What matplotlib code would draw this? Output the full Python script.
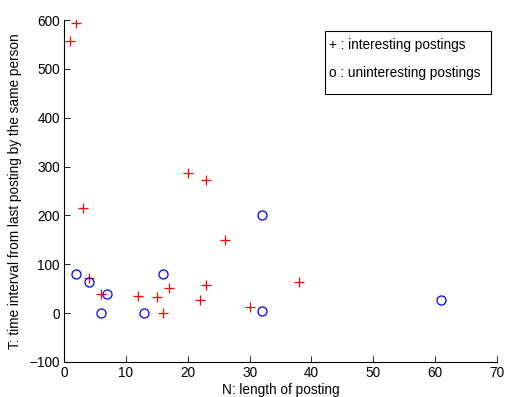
import matplotlib
matplotlib.use("Agg")
import matplotlib.pyplot as plt
from matplotlib.patches import Rectangle

plt.rcParams['font.family'] = ['Liberation Sans', 'DejaVu Sans']

# interesting postings (+)
int_n = [1, 2, 3, 4, 6, 12, 15, 16, 17, 20, 22, 23, 23, 26, 30, 38]
int_t = [558, 594, 216, 72, 39, 36, 32, 1, 52, 287, 26, 272, 58, 149, 12, 63]
# uninteresting postings (o)
unint_n = [2, 4, 6, 7, 13, 16, 32, 32, 61]
unint_t = [80, 64, 0, 39, 0, 81, 200, 5, 27]

xticks = [0, 10, 20, 30, 40, 50, 60, 70]
yticks = [-100, 0, 100, 200, 300, 400, 500, 600]

FS = 9.8

fig = plt.figure(figsize=(5.06, 3.97), dpi=100)
ax = fig.add_axes([0.1265, 0.0882, 0.8557, 0.8614])

ax.plot(int_n, int_t, linestyle='none', marker='+', color='#ff0000',
        markersize=7.5, markeredgewidth=0.9)
ax.plot(unint_n, unint_t, linestyle='none', marker='o', markerfacecolor='none',
        markeredgecolor='#0000ff', markersize=6.5, markeredgewidth=0.9)

ax.set_xlim(0, 70)
ax.set_ylim(-100, 600)
ax.set_xticks(xticks)
ax.set_yticks(yticks)
ax.tick_params(direction='in', length=4, width=0.6, labelsize=FS, colors='black', pad=3)
for s in ['top', 'right']:
    ax.spines[s].set_visible(False)
for s in ['left', 'bottom']:
    ax.spines[s].set_linewidth(0.8)

ax.set_xlabel('N: length of posting', fontsize=FS, labelpad=2)
ax.set_ylabel('T: time interval from last posting by the same person', fontsize=FS, labelpad=5)

rect = Rectangle((0.603, 0.784), 0.383, 0.184, transform=ax.transAxes,
                 fill=False, edgecolor='black', linewidth=0.8, clip_on=False)
ax.add_patch(rect)
ax.text(0.612, 0.927, '+ : interesting postings', transform=ax.transAxes,
        fontsize=FS, va='center', ha='left')
ax.text(0.612, 0.845, 'o : uninteresting postings', transform=ax.transAxes,
        fontsize=FS, va='center', ha='left')

fig.savefig('out.png', dpi=100)
